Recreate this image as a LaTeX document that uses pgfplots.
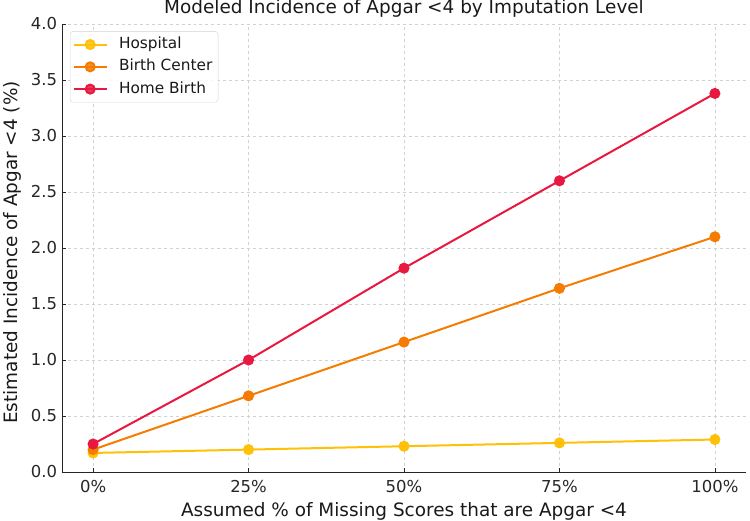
\documentclass[border=0pt]{standalone}
\usepackage{fontspec}
\setmainfont{DejaVu Sans}
\usepackage{pgfplots}
\pgfplotsset{compat=1.18}

\definecolor{hospital}{RGB}{255,193,7}
\definecolor{birthcenter}{RGB}{245,124,0}
\definecolor{homebirth}{RGB}{232,24,64}

\begin{document}
\begin{tikzpicture}
\begin{axis}[
  scale only axis,
  width=684bp, height=448bp,
  xmin=-5, xmax=105, ymin=0, ymax=4,
  axis x line*=bottom, axis y line*=left,
  axis line style={-, black!85, line width=0.9bp},
  xtick={0,25,50,75,100},
  xticklabel={\pgfmathprintnumber{\tick}\%},
  ytick={0,0.5,...,4},
  yticklabel style={/pgf/number format/fixed,
    /pgf/number format/precision=1,
    /pgf/number format/fixed zerofill, xshift=-1.5bp},
  xticklabel style={yshift=-4.5bp},
  /pgf/number format/assume math mode=true,
  tick label style={font=\fontsize{16.5}{19}\selectfont, text=black!85},
  tick align=inside, major tick length=4bp,
  tick style={black!85, line width=0.8bp},
  grid=major,
  grid style={dashed, black!18, line width=0.6bp},
  title={Modeled Incidence of Apgar <4 by Imputation Level},
  title style={font=\fontsize{18.5}{22}\selectfont, text=black!90, at={(axis description cs:0.5,1)}, anchor=base, yshift=5bp},
  xlabel={Assumed \% of Missing Scores that are Apgar <4},
  xlabel style={font=\fontsize{18.5}{22}\selectfont, text=black!90, at={(axis description cs:0.5,0)}, anchor=base, yshift=-44bp},
  ylabel={Estimated Incidence of Apgar <4 (\%)},
  ylabel style={font=\fontsize{18.5}{22}\selectfont, text=black!90, at={(axis description cs:-0.065,0.49)}, anchor=base},
  every axis plot/.append style={line width=2bp, mark=*, mark size=4.5bp},
  legend cell align=left,
  legend image code/.code={%
    \draw[mark repeat=2, mark phase=2, #1] plot coordinates {(0bp,0bp) (16.5bp,0bp) (33bp,0bp)};},
  legend style={at={(axis description cs:0.0117,0.984)}, anchor=north west,
    draw=black!18, rounded corners=3bp, fill=white, fill opacity=0.85, text opacity=1,
    font=\fontsize{15.4}{18}\selectfont, text=black!90,
    nodes={text height=11.3bp, text depth=3.4bp, inner sep=3.3bp},
    row sep=1bp, column sep=8bp, inner sep=2.5bp},
]
\addplot[color=hospital] coordinates {(0,0.17) (25,0.20) (50,0.23) (75,0.26) (100,0.29)};
\addlegendentry{Hospital}
\addplot[color=birthcenter] coordinates {(0,0.20) (25,0.68) (50,1.16) (75,1.64) (100,2.10)};
\addlegendentry{Birth Center}
\addplot[color=homebirth] coordinates {(0,0.25) (25,1.00) (50,1.82) (75,2.60) (100,3.38)};
\addlegendentry{Home Birth}
\end{axis}
\pgfresetboundingbox
\path[use as bounding box] (-62bp,-49bp) rectangle (688bp,472bp);
\end{tikzpicture}
\end{document}
